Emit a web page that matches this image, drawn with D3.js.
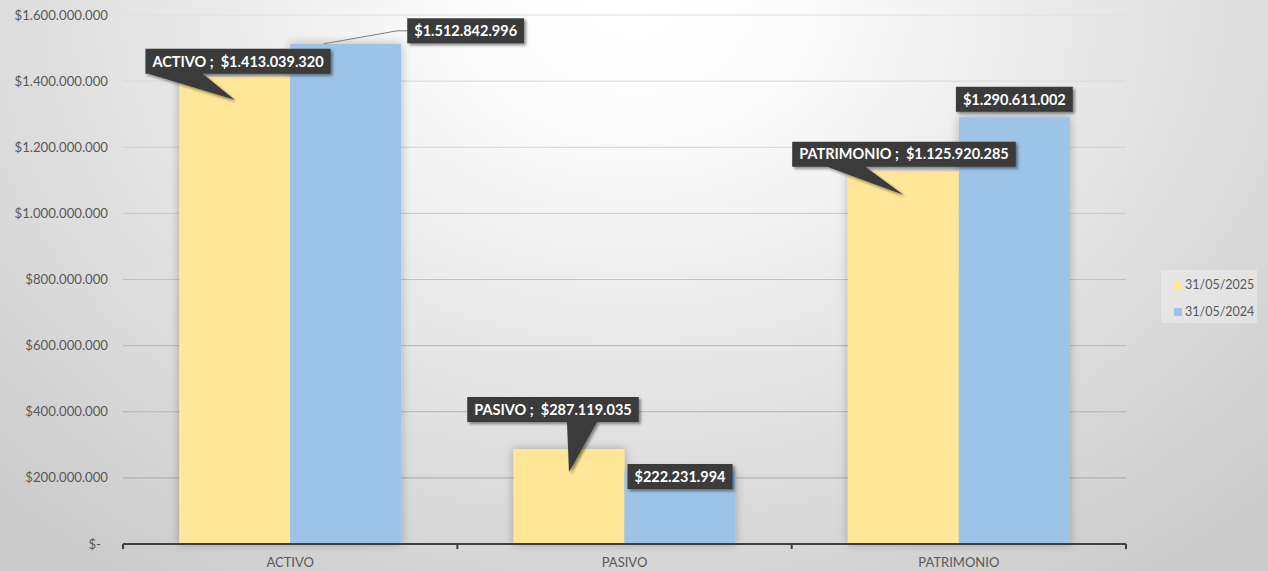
<!DOCTYPE html>
<html><head><meta charset="utf-8">
<script src="https://cdn.jsdelivr.net/npm/d3@7"></script>
<style>
html,body{margin:0;padding:0;overflow:hidden;}
svg{display:block;font-family:Lato,"Open Sans",sans-serif;}
</style></head>
<body><svg id="c" width="1268" height="571"></svg>
<script>
const categories = ["ACTIVO", "PASIVO", "PATRIMONIO"];
const seriesNames = ["31/05/2025", "31/05/2024"];
const values2025 = [1413039320, 287119035, 1125920285];
const values2024 = [1512842996, 222231994, 1290611002];
const yTicks = [0, 200000000, 400000000, 600000000, 800000000, 1000000000, 1200000000, 1400000000, 1600000000];
const colors = ["#FFE699", "#9DC3E6"];

// layout (label placement relative to bar tops)
const calloutLayout = [
  {boxCx: 238, boxBottomDy: -3, base: [-86, -32]},
  {boxCx: 553, boxBottomDy: -27, base: [-2, 28]},
  {boxCx: 904, boxBottomDy: -5, base: [-76, -38]}
];

const svg = d3.select("#c");
const W = 1268, H = 571;
const defs = svg.append("defs");
const rg = defs.append("radialGradient").attr("id","bg").attr("gradientUnits","userSpaceOnUse")
  .attr("cx",634).attr("cy",0).attr("r",900).attr("gradientTransform","scale(1,0.78)");
rg.append("stop").attr("offset","0").attr("stop-color","#ffffff");
rg.append("stop").attr("offset","0.2").attr("stop-color","#fbfbfb");
rg.append("stop").attr("offset","0.5").attr("stop-color","#e8e8e8");
rg.append("stop").attr("offset","1").attr("stop-color","#cbcbcb");
const sh = defs.append("filter").attr("id","barsh").attr("x","-20%").attr("y","-10%").attr("width","140%").attr("height","120%");
sh.append("feDropShadow").attr("dx",0).attr("dy",0).attr("stdDeviation",5).attr("flood-color","#000").attr("flood-opacity",0.28);
const lsh = defs.append("filter").attr("id","lblsh").attr("x","-20%").attr("y","-30%").attr("width","140%").attr("height","170%");
lsh.append("feDropShadow").attr("dx",2).attr("dy",2).attr("stdDeviation",1.5).attr("flood-color","#000").attr("flood-opacity",0.45);

svg.append("rect").attr("width",W).attr("height",H).attr("fill","url(#bg)");

const x0 = d3.scaleBand().domain(categories).range([123, 1126]).paddingInner(0.336).paddingOuter(0.168);
const x1 = d3.scaleBand().domain(seriesNames).range([0, x0.bandwidth()]);
const y = d3.scaleLinear().domain([0, 1600000000]).range([544, 15]);

const loc = d3.formatLocale({decimal: ",", thousands: ".", grouping: [3], currency: ["$", ""]});
const fmt = v => v === 0 ? "$-" : loc.format("$,.0f")(v);

// gridlines (fainter near the light top of the background)
const gridCol = d3.scaleLinear().domain([15, 544]).range(["#e0e0e0", "#a2a2a2"]);
svg.append("g").selectAll("line").data(yTicks.filter(d => d > 0)).join("line")
  .attr("x1", 123).attr("x2", 1126).attr("y1", d => y(d)).attr("y2", d => y(d))
  .attr("stroke", d => gridCol(y(d))).attr("stroke-width", 1);

// y labels
svg.append("g").selectAll("text").data(yTicks).join("text")
  .attr("x", d => d === 0 ? 101 : 108).attr("y", d => y(d)).attr("dy", "0.35em")
  .attr("text-anchor", "end").attr("font-size", 13.2).attr("fill", "#595959")
  .text(fmt);

// bars
const data = categories.map((c, i) => ({cat: c, vals: [values2025[i], values2024[i]]}));
const gb = svg.append("g").attr("filter", "url(#barsh)");
data.forEach(d => {
  seriesNames.forEach((s, j) => {
    gb.append("rect")
      .attr("x", x0(d.cat) + x1(s)).attr("width", x1.bandwidth())
      .attr("y", y(d.vals[j])).attr("height", y(0) - y(d.vals[j]))
      .attr("fill", colors[j]);
  });
});

// x axis
const step = x0.step(), off = step * 0.168;
const bounds = categories.map(c => x0(c) - off).concat([x0(categories[2]) + x0.bandwidth() + off]);
svg.append("line").attr("x1", bounds[0]).attr("x2", bounds[3]).attr("y1", y(0)).attr("y2", y(0))
  .attr("stroke", "#3f3f3f").attr("stroke-width", 2.2);
svg.append("g").selectAll("line").data(bounds).join("line")
  .attr("x1", d => d).attr("x2", d => d).attr("y1", y(0)).attr("y2", y(0) + 5)
  .attr("stroke", "#3f3f3f").attr("stroke-width", 2);
svg.append("g").selectAll("text").data(categories).join("text")
  .attr("x", c => x0(c) + x0.bandwidth() / 2).attr("y", 567)
  .attr("text-anchor", "middle").attr("font-size", 13).attr("fill", "#595959").text(c => c);

// labels
const FS = 14.5;
const lblG = svg.append("g");
function measure(t) {
  const tt = lblG.append("text").attr("font-size", FS).attr("font-weight", 700).attr("xml:space", "preserve").text(t);
  const w = tt.node().getComputedTextLength(); tt.remove(); return w;
}
const boxH = 25, padX = 7;

// 2025 callouts
data.forEach((d, i) => {
  const L = calloutLayout[i];
  const cx = x0(d.cat) + x1(seriesNames[0]) + x1.bandwidth() / 2;
  const top = y(d.vals[0]);
  const tip = [cx, top + 23];
  const txt = d.cat + " ;  " + fmt(d.vals[0]);
  const w = measure(txt) + padX * 2;
  const bx = L.boxCx - w / 2, bb = top + L.boxBottomDy, by = bb - boxH;
  const p = d3.path();
  p.moveTo(bx, by); p.lineTo(bx + w, by); p.lineTo(bx + w, bb);
  const b1 = cx + L.base[1], b0 = cx + L.base[0];
  p.lineTo(Math.max(b1, b0), bb); p.lineTo(tip[0], tip[1]); p.lineTo(Math.min(b0, b1), bb);
  p.lineTo(bx, bb); p.closePath();
  lblG.append("path").attr("d", p.toString()).attr("fill", "#3a3a3a").attr("filter", "url(#lblsh)");
  lblG.append("text").attr("x", L.boxCx).attr("y", by + boxH / 2).attr("dy", "0.36em")
    .attr("text-anchor", "middle").attr("font-size", FS).attr("font-weight", 700).attr("fill", "#fff")
    .attr("xml:space", "preserve").text(txt);
});

// 2024 labels
const blueLayout = [
  {dx: 120, boxCyDy: -13, leader: true},
  {dx: 0, boxCyDy: 6, leader: false},
  {dx: 0, boxCyDy: -18, leader: false}
];
data.forEach((d, i) => {
  const L = blueLayout[i];
  const cx = x0(d.cat) + x1(seriesNames[1]) + x1.bandwidth() / 2;
  const top = y(d.vals[1]);
  const txt = fmt(d.vals[1]);
  const w = measure(txt) + padX * 2;
  const bcx = cx + L.dx, bcy = top + L.boxCyDy;
  if (L.leader) {
    const lx = bcx - w / 2;
    lblG.append("path").attr("d", d3.line()([[cx - 22, top], [lx - 10, bcy], [lx, bcy]]))
      .attr("fill", "none").attr("stroke", "#7f7f7f").attr("stroke-width", 1);
  }
  lblG.append("rect").attr("x", bcx - w / 2).attr("y", bcy - boxH / 2).attr("width", w).attr("height", boxH)
    .attr("fill", "#3a3a3a").attr("filter", "url(#lblsh)");
  lblG.append("text").attr("x", bcx).attr("y", bcy).attr("dy", "0.36em").attr("text-anchor", "middle")
    .attr("font-size", FS).attr("font-weight", 700).attr("fill", "#fff").text(txt);
});

// legend
const lg = svg.append("g");
lg.append("rect").attr("x", 1161).attr("y", 270).attr("width", 96).attr("height", 53).attr("fill", "#ffffff").attr("opacity", 0.3);
seriesNames.forEach((s, j) => {
  const yy = 285 + j * 27;
  lg.append("rect").attr("x", 1174).attr("y", yy - 4).attr("width", 8).attr("height", 8).attr("fill", colors[j]);
  lg.append("text").attr("x", 1185).attr("y", yy).attr("dy", "0.35em").attr("font-size", 12.5).attr("fill", "#595959").text(s);
});
</script></body></html>
